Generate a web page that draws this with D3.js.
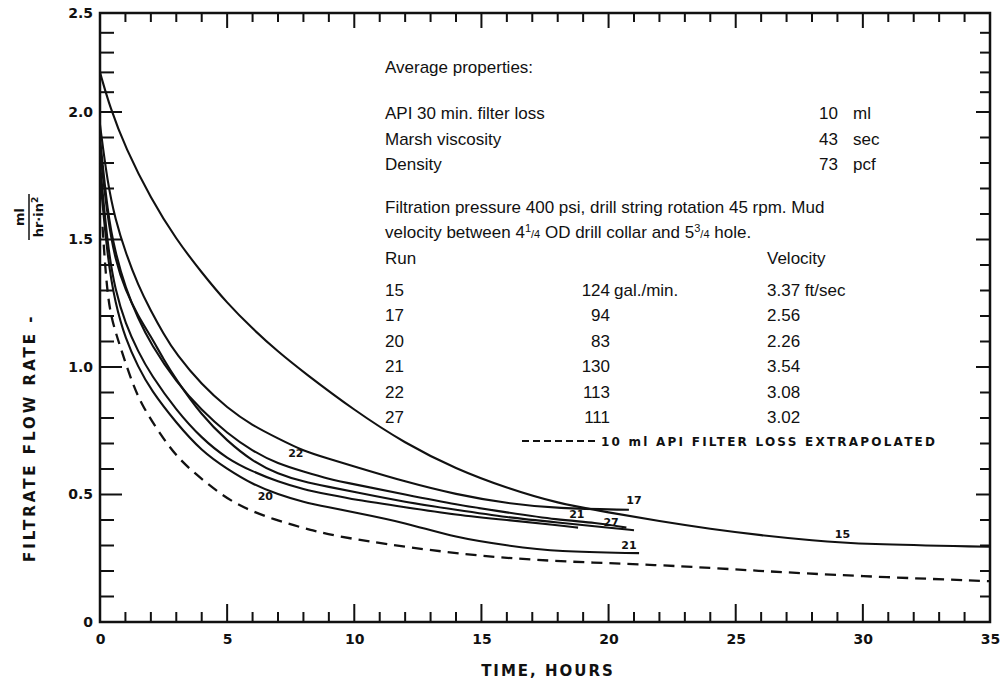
<!DOCTYPE html>
<html>
<head>
<meta charset="utf-8">
<script src="https://cdn.jsdelivr.net/npm/d3@7"></script>
<style>
  body { margin: 0; background: #fff; }
  svg text { fill: #111; }
  .tick-label { font-family: "DejaVu Sans", sans-serif; font-weight: bold; font-size: 14px; }
  .note { font-family: "Liberation Sans", Arial, sans-serif; font-size: 17px; }
  .run-label { font-family: "DejaVu Sans", sans-serif; font-weight: bold; font-size: 11px; }
</style>
</head>
<body>
<svg id="svg"></svg>
<script>
// Filtrate flow rate vs time, dynamic filtration runs

const width = 1007;
const height = 688;

// ---- data ----
const time15 = [0, 0.4, 1, 2, 3, 4, 5, 6, 7, 8, 10, 12, 14, 16, 18, 20, 22, 24, 26, 28, 30, 35];
const rate15 = [2.2, 2.02, 1.86, 1.66, 1.5, 1.37, 1.25, 1.15, 1.06, 0.98, 0.83, 0.7, 0.6, 0.525, 0.465, 0.43, 0.395, 0.365, 0.34, 0.32, 0.305, 0.295];

const time17 = [0, 0.3, 0.6, 1, 1.5, 2, 2.5, 3, 4, 5, 6, 7, 8, 9, 10, 12, 14, 16, 18, 20.8];
const rate17 = [1.95, 1.72, 1.58, 1.45, 1.32, 1.22, 1.13, 1.05, 0.93, 0.84, 0.77, 0.72, 0.67, 0.64, 0.61, 0.55, 0.5, 0.465, 0.445, 0.44];

const time22 = [0, 0.3, 0.6, 1, 1.5, 2, 3, 4, 5, 6, 7, 8, 9, 10, 12, 14, 16, 18, 19.5, 20.7];
const rate22 = [1.9, 1.6, 1.45, 1.31, 1.19, 1.09, 0.94, 0.83, 0.74, 0.67, 0.62, 0.59, 0.56, 0.54, 0.5, 0.46, 0.43, 0.4, 0.39, 0.37];

const time27 = [0, 0.3, 0.6, 1, 1.5, 2, 2.5, 3, 4, 5, 6, 7, 8, 9, 10, 12, 14, 16, 18, 20, 21];
const rate27 = [1.85, 1.58, 1.42, 1.3, 1.2, 1.12, 1.03, 0.95, 0.81, 0.71, 0.63, 0.58, 0.55, 0.53, 0.51, 0.47, 0.44, 0.41, 0.39, 0.37, 0.36];

const time21 = [0, 0.3, 0.6, 1, 1.5, 2, 3, 4, 5, 6, 7, 8, 9, 10, 12, 14, 16, 18, 18.8];
const rate21 = [1.8, 1.47, 1.3, 1.17, 1.06, 0.97, 0.83, 0.72, 0.64, 0.59, 0.55, 0.52, 0.5, 0.48, 0.45, 0.42, 0.4, 0.38, 0.37];

const time20 = [0, 0.3, 0.6, 1, 1.5, 2, 3, 4, 5, 6, 7, 8, 9, 10, 12, 14, 16, 18, 21.2];
const rate20 = [1.75, 1.42, 1.25, 1.11, 1.0, 0.91, 0.78, 0.67, 0.6, 0.54, 0.5, 0.47, 0.45, 0.43, 0.39, 0.33, 0.3, 0.275, 0.27];

// 10 ml API filter loss, extrapolated (dashed)
const timeApi = [0.1, 0.3, 0.6, 0.86, 1.26, 1.65, 2.28, 3.06, 4.12, 5.3, 6.87, 8.3, 9.6, 12.95, 16.9, 22, 25.9, 29.8, 35];
const rateApi = [1.55, 1.25, 1.14, 1.06, 0.94, 0.85, 0.75, 0.64, 0.55, 0.46, 0.4, 0.36, 0.33, 0.28, 0.24, 0.225, 0.2, 0.18, 0.16];

const runLabels = ["15", "17", "22", "20", "21", "27", "21"];
const labelTime = [29.2, 21.0, 7.7, 6.5, 18.75, 20.1, 20.8];
const labelRate = [0.34, 0.475, 0.66, 0.49, 0.42, 0.39, 0.3];

const xTicks = [0, 5, 10, 15, 20, 25, 30, 35];
const yTicks = [0, 0.5, 1.0, 1.5, 2.0, 2.5];
const xMinor = d3.range(0, 36);
const yMinor = d3.range(0, 26).map((d) => d / 10);

const tableRuns = ["15", "17", "20", "21", "22", "27"];
const tableRates = ["124", "94", "83", "130", "113", "111"];
const tableVelocity = ["3.37 ft/sec", "2.56", "2.26", "3.54", "3.08", "3.02"];

const propNames = ["API 30 min. filter loss", "Marsh viscosity", "Density"];
const propValues = ["10", "43", "73"];
const propUnits = ["ml", "sec", "pcf"];

// ---- svg setup ----
const svg = d3.select("#svg")
    .attr("width", width)
    .attr("height", height)
    .style("background", "#fff");

// scan is squeezed above 2.0, so the y scale is piecewise
const x = d3.scaleLinear().domain([0, 35]).range([100, 990]);
const y = d3.scaleLinear().domain([0, 2, 2.5]).range([622, 112, 13]);

const g = svg.append("g");

// tick marks on all four sides, pointing inward (drawn as thin rects)
function isMajorX(d) {
    return d % 5 === 0;
}
function isMajorY(d) {
    return Math.round(d * 10) % 5 === 0;
}

let gTicks = g.append("g").attr("fill", "#111");

gTicks.selectAll("rect.bottom")
    .data(xMinor)
    .join("rect")
    .attr("class", "bottom")
    .attr("x", (d) => x(d) - 1)
    .attr("width", 2)
    .attr("y", (d) => y(0) - (isMajorX(d) ? 18 : 10))
    .attr("height", (d) => (isMajorX(d) ? 18 : 10));

gTicks.selectAll("rect.top")
    .data(xMinor)
    .join("rect")
    .attr("class", "top")
    .attr("x", (d) => x(d) - 1)
    .attr("width", 2)
    .attr("y", y(2.5))
    .attr("height", (d) => (isMajorX(d) ? 15 : 9));

gTicks.selectAll("rect.left")
    .data(yMinor)
    .join("rect")
    .attr("class", "left")
    .attr("x", x(0))
    .attr("width", (d) => (isMajorY(d) ? 22 : 14))
    .attr("y", (d) => y(d) - 1)
    .attr("height", 2);

gTicks.selectAll("rect.right")
    .data(yMinor)
    .join("rect")
    .attr("class", "right")
    .attr("x", (d) => x(35) - (isMajorY(d) ? 14 : 10))
    .attr("width", (d) => (isMajorY(d) ? 14 : 10))
    .attr("y", (d) => y(d) - 1)
    .attr("height", 2);

// tick labels
g.append("g")
    .attr("class", "x-axis")
    .attr("transform", `translate(0,${y(0)})`)
    .call(d3.axisBottom(x).tickValues(xTicks).tickSize(0).tickPadding(12));
g.append("g")
    .attr("class", "y-axis")
    .attr("transform", `translate(${x(0)},0)`)
    .call(d3.axisLeft(y).tickValues(yTicks).tickSize(0).tickPadding(7)
        .tickFormat((d) => (d === 0 ? "0" : d3.format(".1f")(d))));

g.selectAll(".domain").remove();
g.selectAll(".tick text").attr("class", "tick-label").attr("fill", "#111");

// frame
g.append("rect")
    .attr("x", x(0))
    .attr("y", y(2.5))
    .attr("width", x(35) - x(0))
    .attr("height", y(0) - y(2.5))
    .attr("fill", "none")
    .attr("stroke", "#111")
    .attr("stroke-width", 2.5);

// ---- curves ----
const line = d3.line()
    .x((d) => x(d[0]))
    .y((d) => y(d[1]))
    .curve(d3.curveBasis);

const solidRuns = [
    [time15, rate15],
    [time17, rate17],
    [time22, rate22],
    [time27, rate27],
    [time21, rate21],
    [time20, rate20],
];

solidRuns.forEach(([t, v]) => {
    g.append("path")
        .datum(d3.zip(t, v))
        .attr("d", line)
        .attr("fill", "none")
        .attr("stroke", "#111")
        .attr("stroke-width", 2.1);
});

g.append("path")
    .datum(d3.zip(timeApi, rateApi))
    .attr("d", line)
    .attr("fill", "none")
    .attr("stroke", "#111")
    .attr("stroke-width", 2.3)
    .attr("stroke-dasharray", "11,7");

g.selectAll("text.run-label")
    .data(runLabels)
    .join("text")
    .attr("class", "run-label")
    .attr("x", (d, i) => x(labelTime[i]))
    .attr("y", (d, i) => y(labelRate[i]))
    .attr("text-anchor", "middle")
    .attr("dominant-baseline", "middle")
    .text((d) => d);

// ---- text block ----
const notes = svg.append("g").attr("class", "note");

notes.append("text").attr("x", 385).attr("y", 73).text("Average properties:");

propNames.forEach((name, i) => {
    const yy = 119 + i * 25.5;
    notes.append("text").attr("x", 385).attr("y", yy).text(name);
    notes.append("text").attr("x", 838).attr("y", yy).attr("text-anchor", "end").text(propValues[i]);
    notes.append("text").attr("x", 853).attr("y", yy).text(propUnits[i]);
});

notes.append("text").attr("x", 385).attr("y", 213)
    .text("Filtration pressure 400 psi, drill string rotation 45 rpm. Mud");

let vel = notes.append("text").attr("x", 385).attr("y", 238);
vel.append("tspan").text("velocity between 4");
vel.append("tspan").attr("font-size", 11).attr("dy", -6).text("1");
vel.append("tspan").attr("font-size", 11).attr("dy", 6).text("/4");
vel.append("tspan").text(" OD drill collar and 5");
vel.append("tspan").attr("font-size", 11).attr("dy", -6).text("3");
vel.append("tspan").attr("font-size", 11).attr("dy", 6).text("/4");
vel.append("tspan").text(" hole.");

notes.append("text").attr("x", 385).attr("y", 264).text("Run");
notes.append("text").attr("x", 767).attr("y", 264).text("Velocity");

tableRuns.forEach((run, i) => {
    const yy = 296 + i * 25.4;
    notes.append("text").attr("x", 385).attr("y", yy).text(run);
    notes.append("text").attr("x", 610).attr("y", yy).attr("text-anchor", "end").text(tableRates[i]);
    if (i === 0) {
        notes.append("text").attr("x", 614).attr("y", yy).text("gal./min.");
    }
    notes.append("text").attr("x", 767).attr("y", yy).text(tableVelocity[i]);
});

// legend for the dashed line
svg.append("line")
    .attr("x1", 522)
    .attr("x2", 598)
    .attr("y1", 441)
    .attr("y2", 441)
    .attr("stroke", "#111")
    .attr("stroke-width", 2)
    .attr("stroke-dasharray", "7,4");

svg.append("text")
    .attr("x", 601)
    .attr("y", 446)
    .attr("font-family", "DejaVu Sans, sans-serif")
    .attr("font-weight", "bold")
    .attr("font-size", 12)
    .attr("textLength", 334)
    .attr("lengthAdjust", "spacing")
    .text("10 ml API FILTER LOSS EXTRAPOLATED");

// ---- axis titles ----
svg.append("text")
    .attr("x", 548)
    .attr("y", 676)
    .attr("text-anchor", "middle")
    .attr("font-family", "DejaVu Sans, sans-serif")
    .attr("font-weight", "bold")
    .attr("font-size", 15)
    .attr("letter-spacing", 2)
    .text("TIME,  HOURS");

svg.append("text")
    .attr("transform", "translate(35,562) rotate(-90)")
    .attr("font-family", "DejaVu Sans, sans-serif")
    .attr("font-weight", "bold")
    .attr("font-size", 15)
    .attr("letter-spacing", 3)
    .text("FILTRATE  FLOW  RATE  -");

const frac = svg.append("g")
    .attr("transform", "translate(29,217) rotate(-90)")
    .attr("font-family", "DejaVu Sans, sans-serif")
    .attr("font-weight", "bold");

frac.append("line")
    .attr("x1", -23)
    .attr("x2", 23)
    .attr("stroke", "#111")
    .attr("stroke-width", 1.5);
frac.append("text").attr("y", -5).attr("text-anchor", "middle").attr("font-size", 13).text("ml");
let den = frac.append("text").attr("y", 14).attr("text-anchor", "middle").attr("font-size", 13);
den.append("tspan").text("hr·in");
den.append("tspan").attr("font-size", 9).attr("dy", -5).text("2");
</script>
</body>
</html>
